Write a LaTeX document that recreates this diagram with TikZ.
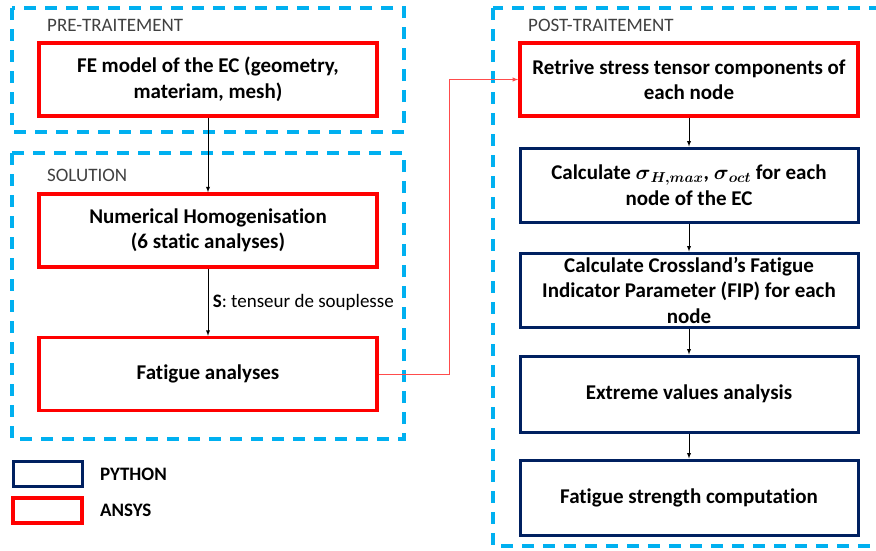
\documentclass[tikz,border=0pt]{standalone}
\usepackage{amsmath}
\usepackage{fontspec}
\setmainfont{Carlito}[Ligatures=NoCommon]
\usetikzlibrary{arrows}

\definecolor{phaseblue}{HTML}{00B0F0}
\definecolor{pynavy}{HTML}{002060}
\definecolor{ansysred}{HTML}{FF0000}
\definecolor{titlegray}{HTML}{404040}

\newcommand{\bsig}[1]{\boldsymbol{\sigma}_{\boldsymbol{#1}}}

\tikzset{
  ansys/.style={draw=ansysred,line width=3.4pt,fill=white,minimum width=338pt,minimum height=73pt,align=center,font=\fontsize{21}{25.5}\selectfont\bfseries},
  python/.style={draw=pynavy,line width=3pt,fill=white,minimum width=338pt,minimum height=74pt,align=center,font=\fontsize{21}{25.5}\selectfont\bfseries},
  phase/.style={draw=phaseblue,line width=3.4pt,dash pattern=on 12pt off 9pt},
  phasetitle/.style={anchor=west,inner sep=0pt,text=titlegray,font=\fontsize{19}{22}\selectfont},
  legendtext/.style={anchor=west,inner sep=0pt,font=\fontsize{19}{22}\selectfont\bfseries}
}

\begin{document}
\begin{tikzpicture}[x=1pt,y=-1pt]
  \useasboundingbox (0,0) rectangle (876,550);
  \clip (0,0) rectangle (876,550);

  \draw[phase] (12,8) rectangle (404,132);
  \draw[phase] (12,153) rectangle (404,439);
  \draw[phase] (493,8) rectangle (884,546);

  \node[phasetitle] (pre) at (47,25) {PRE-TRAITEMENT};
  \node[phasetitle] (sol) at (47,175) {SOLUTION};
  \node[phasetitle] (post) at (528,25) {POST-TRAITEMENT};

  \node[ansys] (fe) at (208,79.5) {FE model of the EC (geometry,\\materiam, mesh)};
  \node[ansys] (hom) at (208,230.5) {Numerical Homogenisation\\(6 static analyses)};
  \node[ansys] (fat) at (208,374) {Fatigue analyses};

  \node[ansys] (ret) at (689,79.5) {Retrive stress tensor components of\\each node};
  \node[python] (sig) at (689,185) {Calculate $\bsig{H,max}$, $\bsig{oct}$ for each\\node of the EC};
  \node[python] (cro) at (689,290) {Calculate Crossland’s Fatigue\\Indicator Parameter (FIP) for each\\node};
  \node[python,minimum height=76pt] (ext) at (689,394) {Extreme values analysis};
  \node[python,minimum height=75pt] (str) at (689,497.5) {Fatigue strength computation};

  \node[draw=pynavy,line width=3pt,minimum width=69pt,minimum height=25pt] (leg1) at (47.5,474) {};
  \node[draw=ansysred,line width=3.4pt,minimum width=69pt,minimum height=25pt] (leg2) at (47.5,510.5) {};
  \node[legendtext] (leg1t) at (100,474) {PYTHON};
  \node[legendtext] (leg2t) at (100,510.5) {ANSYS};

  \draw[line width=0.9pt,-latex] (fe) edge (hom);
  \draw[line width=0.9pt,-latex] (hom) edge node[right,xshift=1pt,font=\fontsize{19}{22}\selectfont] {\textbf{S}: tenseur de souplesse} (fat);
  \draw[line width=0.9pt,-latex] (ret) edge (sig);
  \draw[line width=0.9pt,-latex] (sig) edge (cro);
  \draw[line width=0.9pt,-latex] (cro) edge (ext);
  \draw[line width=0.9pt,-latex] (ext) edge (str);

  \coordinate (bend) at (449,374);
  \draw[ansysred!70!white,line width=1pt,-latex] (fat.east) -- (bend) |- (ret.west);

\end{tikzpicture}
\end{document}
